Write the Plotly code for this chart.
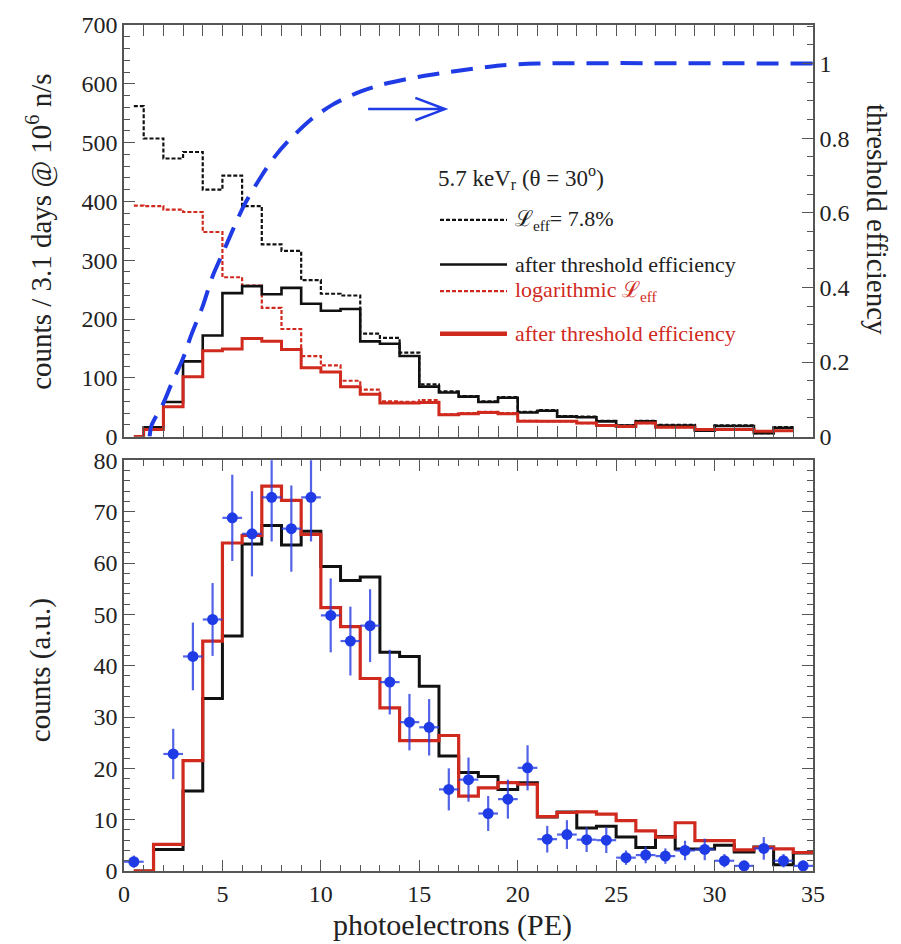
import plotly.graph_objects as go

# ---------------- data ----------------
top_edges = [0.5] + list(range(1, 35))            # 0.5,1,2,...,34
leff_black = [562, 507, 473, 484, 420, 444, 392, 327, 316, 266, 243, 240, 175, 168, 143, 89, 77, 69, 60, 67,
              42, 45, 35, 34, 27, 19, 27, 20, 20, 10, 19, 19, 6, 16]
thr_black = [0, 16, 59, 128, 172, 244, 256, 242, 253, 226, 214, 217, 162, 158, 137, 85, 75, 68, 59, 66,
             41, 44, 34, 33, 26, 19, 26, 19, 19, 10, 18, 18, 6, 15]
leff_red = [393, 392, 386, 382, 348, 271, 257, 219, 183, 137, 121, 95, 80, 60, 59, 62, 38, 40, 42, 40,
            27, 26, 26, 23, 19, 17, 23, 16, 16, 12, 12, 12, 9, 10]
thr_red = [0, 12, 51, 102, 146, 149, 167, 162, 148, 117, 110, 85, 72, 57, 57, 58, 37, 39, 41, 39,
           26, 26, 26, 23, 19, 17, 23, 16, 16, 12, 12, 12, 9, 10]

eff_x = [1.3, 1.4, 2.0, 2.4, 3.0, 3.4, 4.0, 4.5, 5.0, 6.1, 7.0, 7.65, 8.3, 9.5, 10.6, 12.0, 13.2, 15.0, 16.6, 19.1, 21, 35]
eff_y = [0.0, 0.03, 0.09, 0.14, 0.21, 0.27, 0.35, 0.43, 0.49, 0.62, 0.70, 0.75, 0.79, 0.85, 0.89, 0.925, 0.945, 0.965, 0.978, 0.995, 1.0, 1.0]

bot_edges = [0.5, 1.5] + list(range(3, 36))        # 0.5,1.5,3,4,...,35
bot_black = [0, 4.2, 15.6, 33.6, 45.8, 63.7, 67.3, 63.5, 66.2, 59.3, 56.6, 57.3, 42.6, 41.8, 36.0, 22.4, 19.2, 18.4,
             15.9, 17.2, 10.5, 11.5, 8.4, 8.7, 6.6, 4.6, 6.7, 4.3, 4.3, 5.0, 3.7, 4.7, 1.2, 3.5]
bot_red = [0, 5.2, 21.5, 44.8, 63.9, 65.4, 75.0, 72.2, 65.6, 51.3, 47.6, 37.5, 31.8, 25.4, 25.4, 26.4, 14.6, 16.2,
           17.2, 16.9, 10.6, 11.4, 11.5, 11.1, 9.8, 7.8, 6.6, 9.4, 5.9, 5.9, 4.1, 4.6, 4.3, 3.6]

data_x = [0.5] + [i + 0.5 for i in range(2, 35)]
data_y = [1.8, 22.8, 41.8, 49.0, 68.8, 65.7, 72.8, 66.7, 72.8, 49.8, 44.8, 47.8, 36.8, 29.0, 28.0, 15.9, 17.8, 11.2,
          14.0, 20.1, 6.2, 7.1, 6.1, 6.0, 2.6, 3.1, 2.9, 4.0, 4.2, 2.0, 1.0, 4.4, 2.0, 1.0]
data_err = [1.2, 4.9, 6.6, 7.1, 8.4, 8.3, 8.6, 8.4, 8.6, 7.2, 6.7, 7.1, 6.3, 5.5, 5.5, 4.1, 4.3, 3.4,
            3.8, 4.4, 2.6, 2.8, 2.4, 2.5, 1.4, 1.6, 1.5, 1.9, 2.1, 1.3, 1.0, 2.2, 1.3, 1.0]

# ---------------- styling ----------------
FONT = "Liberation Serif, DejaVu Serif, serif"
BLACK = "#111111"
RED = "#d02a1e"
BLUE = "#1f3be6"
AX = "#555555"
TXT = "#222222"
W, H = 901, 944
L, R, T, B = 124, 813, 16, 871


def px(x):
    return (x - L) / (R - L)


def py(y):
    return (B - y) / (B - T)


def steps(edges, vals):
    return list(edges), list(vals) + [vals[-1]]


fig = go.Figure()

# top panel histograms
for vals, color, dash, width in [
    (leff_black, BLACK, "4px,2px", 2.2),
    (leff_red, RED, "4px,2px", 2.2),
    (thr_black, BLACK, "solid", 2.6),
    (thr_red, RED, "solid", 3.0),
]:
    xs, ys = steps(top_edges, vals)
    fig.add_trace(go.Scatter(x=xs, y=ys, mode="lines", line=dict(color=color, dash=dash, width=width, shape="hv"),
                             xaxis="x", yaxis="y", showlegend=False, hoverinfo="skip"))

# threshold efficiency curve
fig.add_trace(go.Scatter(x=eff_x, y=eff_y, mode="lines",
                         line=dict(color=BLUE, dash="22px,12px", width=4, shape="spline", smoothing=0.8),
                         xaxis="x", yaxis="y2", showlegend=False, hoverinfo="skip"))

# bottom panel histograms
for vals, color, width in [(bot_black, BLACK, 3.0), (bot_red, RED, 3.2)]:
    xs, ys = steps(bot_edges, vals)
    fig.add_trace(go.Scatter(x=xs, y=ys, mode="lines", line=dict(color=color, width=width, shape="hv"),
                             xaxis="x2", yaxis="y3", showlegend=False, hoverinfo="skip"))

# data points
fig.add_trace(go.Scatter(
    x=data_x, y=data_y, mode="markers",
    marker=dict(symbol="circle", size=11, color=BLUE),
    error_y=dict(type="data", array=data_err, color="rgba(40,60,225,0.8)", thickness=2.2, width=0),
    error_x=dict(type="constant", value=0.5, color="rgba(40,60,225,0.8)", thickness=2.2, width=0),
    xaxis="x2", yaxis="y3", showlegend=False, hoverinfo="skip"))

tickfont = dict(family=FONT, size=24, color=TXT)
common_x = dict(range=[0, 35], ticks="inside", dtick=5, tick0=0, ticklen=11, tickwidth=1.3, tickcolor=AX,
                minor=dict(ticks="inside", dtick=1, ticklen=6, tickwidth=1.1, tickcolor=AX),
                showline=True, linecolor=AX, linewidth=1.5, mirror="allticks", showgrid=False, zeroline=False,
                tickfont=tickfont)

fig.update_layout(
    width=W, height=H,
    margin=dict(l=L, r=W - R, t=T, b=H - B),
    paper_bgcolor="white", plot_bgcolor="white",
    font=dict(family=FONT, color=TXT),
    xaxis=dict(common_x, domain=[0, 1], anchor="y", showticklabels=False),
    yaxis=dict(domain=[py(432), 1], range=[0, 700], dtick=100, ticks="inside", ticklen=11, tickwidth=1.3,
               tickcolor=AX, minor=dict(ticks="inside", dtick=20, ticklen=6, tickwidth=1.1, tickcolor=AX),
               showline=True, linecolor=AX, linewidth=1.5, mirror=True, showgrid=False, zeroline=False,
               tickfont=tickfont, anchor="x"),
    yaxis2=dict(overlaying="y", side="right", anchor="x", range=[0, 1.1035], tickvals=[0, 0.2, 0.4, 0.6, 0.8, 1],
                ticktext=["0", "0.2", "0.4", "0.6", "0.8", "1"], ticks="inside", ticklen=11, tickwidth=1.3,
                tickcolor=AX, minor=dict(ticks="inside", dtick=0.05, ticklen=6, tickwidth=1.1, tickcolor=AX),
                showline=True, linecolor=AX, linewidth=1.5, showgrid=False, zeroline=False, tickfont=tickfont),
    xaxis2=dict(common_x, domain=[0, 1], anchor="y3", showticklabels=True),
    yaxis3=dict(domain=[0, py(456)], range=[0, 80], dtick=10, ticks="inside", ticklen=11, tickwidth=1.3,
                tickcolor=AX, minor=dict(ticks="inside", dtick=2, ticklen=6, tickwidth=1.1, tickcolor=AX),
                showline=True, linecolor=AX, linewidth=1.5, mirror="allticks", showgrid=False, zeroline=False,
                tickfont=tickfont, anchor="x2"),
)

ann = []
title_font = dict(family=FONT, size=29, color=TXT)
ann.append(dict(text="counts / 3.1 days @ 10<sup>6</sup> n/s", x=px(40), y=py(225), xref="paper", yref="paper",
                textangle=-90, showarrow=False, font=title_font, xanchor="center", yanchor="middle"))
ann.append(dict(text="counts (a.u.)", x=px(40), y=py(668), xref="paper", yref="paper",
                textangle=-90, showarrow=False, font=title_font, xanchor="center", yanchor="middle"))
ann.append(dict(text="threshold efficiency", x=px(877), y=py(212), xref="paper", yref="paper",
                textangle=90, showarrow=False, font=title_font, xanchor="center", yanchor="middle"))
ann.append(dict(text="photoelectrons (PE)", x=px(452), y=py(944), xref="paper", yref="paper",
                showarrow=False, font=dict(family=FONT, size=30, color=TXT), xanchor="center", yanchor="bottom",
                borderpad=0))

leg_font = 22
ann.append(dict(text="5.7 keV<sub>r</sub> (θ = 30<sup>o</sup>)", x=px(436), y=py(170), xref="paper", yref="paper",
                showarrow=False, font=dict(family=FONT, size=23, color=TXT), xanchor="left", yanchor="middle"))
legend_items = [
    ("ℒ<sub>eff</sub>= 7.8%", BLACK, "4px,2px", 2.2, 213),
    ("after threshold efficiency", BLACK, "solid", 2.6, 258),
    ("logarithmic ℒ<sub>eff</sub>", RED, "4px,2px", 2.2, 285),
    ("after threshold efficiency", RED, "solid", 4.5, 328),
]
shapes = []
for text, color, dash, width, yy in legend_items:
    shapes.append(dict(type="line", xref="paper", yref="paper", x0=px(440), x1=px(507), y0=py(yy), y1=py(yy),
                       line=dict(color=color, dash=dash, width=width)))
    ann.append(dict(text=text, x=px(513), y=py(yy), xref="paper", yref="paper", showarrow=False,
                    font=dict(family=FONT, size=leg_font, color=color if color == RED else TXT),
                    xanchor="left", yanchor="middle"))

# arrow pointing to the right axis
shapes.append(dict(type="path", xref="x", yref="y",
                   path="M 12.4,557 L 16.3,557 M 14.8,576 L 16.3,557 L 14.8,538",
                   line=dict(color=BLUE, width=2.5)))

fig.update_layout(annotations=ann, shapes=shapes)
fig.write_html("out.html")
